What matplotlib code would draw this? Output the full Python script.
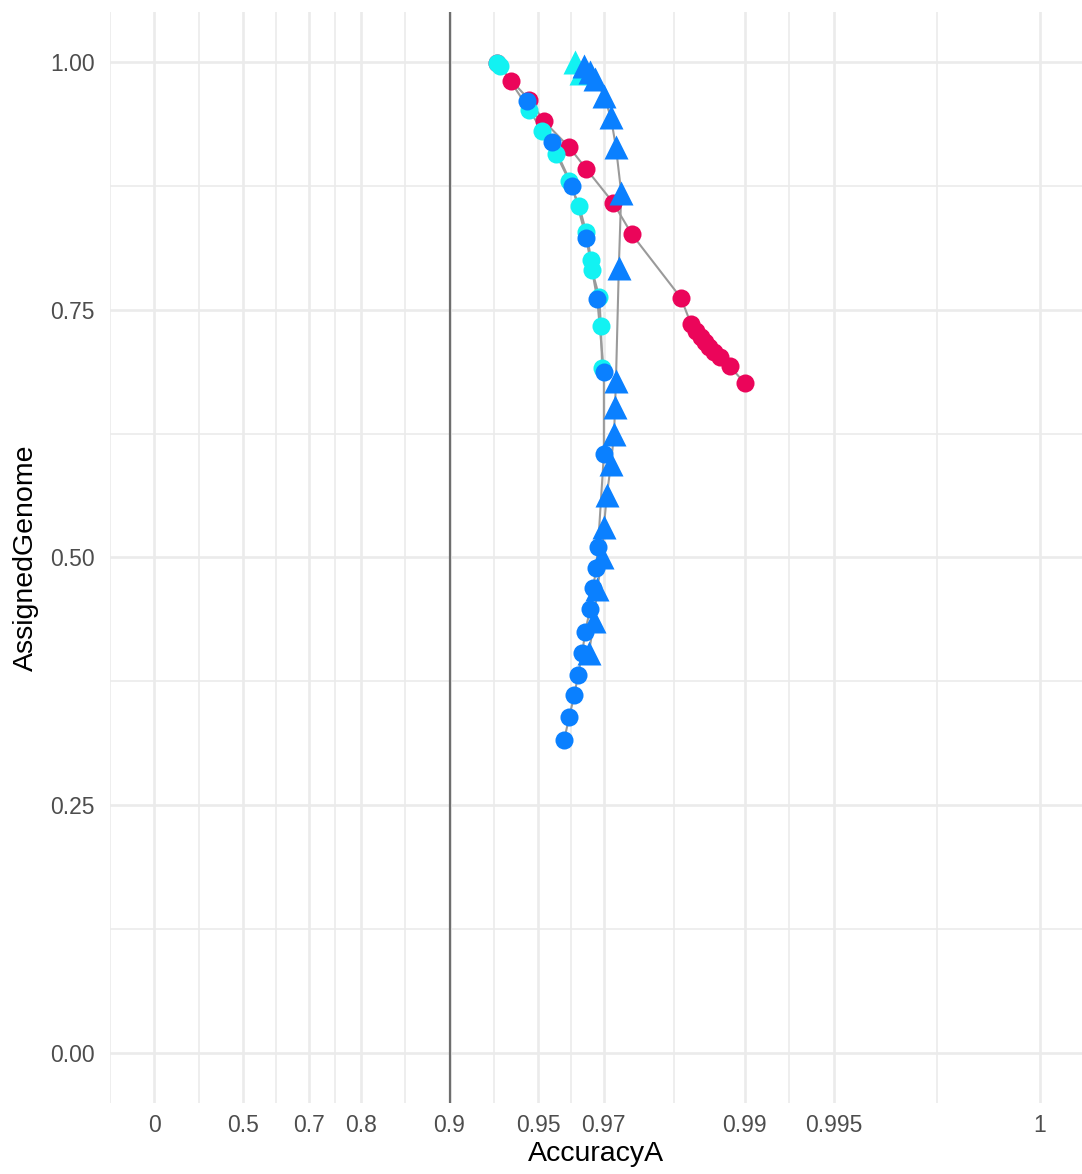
import numpy as np
import matplotlib
matplotlib.use('Agg')
import matplotlib.pyplot as plt

plt.rcParams['font.family'] = ['Liberation Sans', 'DejaVu Sans']

# eje x transformado: -log10(1 - acc), recortado en 0.999
def trans(a):
    a = np.minimum(np.asarray(a, dtype=float), 0.999)
    return -np.log10(1 - a)

x_breaks = [0, 0.5, 0.7, 0.8, 0.9, 0.95, 0.97, 0.99, 0.995, 1]
x_labels = ['0', '0.5', '0.7', '0.8', '0.9', '0.95', '0.97', '0.99', '0.995', '1']
y_breaks = [0.0, 0.25, 0.5, 0.75, 1.0]
y_labels = ['0.00', '0.25', '0.50', '0.75', '1.00']
umbral = 0.9

# serie roja (circulos)
red_acc = [0.9311, 0.9383, 0.9463, 0.9522, 0.9607, 0.9656, 0.9721, 0.9759, 0.98355,
           0.98478, 0.98536, 0.98592, 0.98636, 0.98677, 0.98727, 0.98785, 0.98876, 0.9900]
red_gen = [0.999, 0.981, 0.962, 0.940, 0.914, 0.892, 0.858, 0.826, 0.762,
           0.736, 0.729, 0.722, 0.717, 0.712, 0.707, 0.702, 0.693, 0.676]

# serie cian (circulos)
cyan_acc = [0.9311, 0.9327, 0.9463, 0.9515, 0.9565, 0.9607, 0.9636, 0.9656, 0.9669,
            0.9671, 0.9689, 0.9693, 0.9696]
cyan_gen = [0.999, 0.996, 0.952, 0.930, 0.907, 0.880, 0.855, 0.828, 0.800,
            0.790, 0.763, 0.734, 0.691]

# serie azul (circulos)
blue_acc = [0.9455, 0.9551, 0.9616, 0.9656, 0.9684, 0.9700, 0.9700, 0.9686, 0.9681,
            0.9674, 0.9666, 0.9653, 0.9645, 0.9633, 0.9622, 0.9607, 0.9591]
blue_gen = [0.961, 0.919, 0.875, 0.822, 0.761, 0.687, 0.604, 0.511, 0.489,
            0.469, 0.448, 0.425, 0.404, 0.381, 0.361, 0.339, 0.316]

# serie azul (triangulos)
tri_acc = [0.9650, 0.9666, 0.9679, 0.9700, 0.9716, 0.9727, 0.9738, 0.9733, 0.9727,
           0.9725, 0.9723, 0.9716, 0.9707, 0.9700, 0.9696, 0.9684, 0.9676, 0.9663]
tri_gen = [0.996, 0.990, 0.983, 0.966, 0.944, 0.914, 0.868, 0.792, 0.678,
           0.652, 0.625, 0.594, 0.563, 0.531, 0.500, 0.468, 0.436, 0.404]

# serie cian (triangulos)
ctri_acc = [0.9625, 0.9642]
ctri_gen = [1.000, 0.989]

c_red = '#EB055A'
c_cyan = '#12F2F2'
c_blue = '#0A80FF'
c_line = '#9A9A9A'

fig = plt.figure(figsize=(10.82, 11.74), dpi=100)
ax = fig.add_axes([0.1017, 0.0609, 0.8983, 0.9285])

# grilla menor y mayor
tb = trans(x_breaks)
x_minor = [-0.15] + list((tb[:-1] + tb[1:]) / 2)
y_minor = [0.125, 0.375, 0.625, 0.875]
for v in x_minor:
    ax.axvline(v, color='#EBEBEB', lw=1.2, zorder=0)
for v in y_minor:
    ax.axhline(v, color='#EBEBEB', lw=1.2, zorder=0)
for v in tb:
    ax.axvline(v, color='#EBEBEB', lw=1.9, zorder=0)
for v in y_breaks:
    ax.axhline(v, color='#EBEBEB', lw=1.9, zorder=0)

ax.axvline(trans(umbral), color='#6E6E6E', lw=1.6, zorder=1)

# lineas
for xs, ys in [(red_acc, red_gen), (cyan_acc, cyan_gen), (blue_acc, blue_gen),
               (tri_acc, tri_gen), (ctri_acc, ctri_gen)]:
    ax.plot(trans(xs), ys, color=c_line, lw=1.5, zorder=2)

# puntos
ax.plot(trans(red_acc), red_gen, 'o', color=c_red, ms=13, mec='none', zorder=3)
ax.plot(trans(cyan_acc), cyan_gen, 'o', color=c_cyan, ms=13, mec='none', zorder=3)
ax.plot(trans(blue_acc), blue_gen, 'o', color=c_blue, ms=13, mec='none', zorder=3)
ax.plot(trans(ctri_acc), ctri_gen, '^', color=c_cyan, ms=17, mec='none', zorder=3)
ax.plot(trans(tri_acc), tri_gen, '^', color=c_blue, ms=17, mec='none', zorder=3)

ax.set_xlim(-0.15, 3.1426)
ax.set_ylim(-0.05, 1.05)
ax.set_xticks(tb)
ax.set_xticklabels(x_labels)
ax.set_yticks(y_breaks)
ax.set_yticklabels(y_labels)
ax.tick_params(axis='x', length=0, labelsize=16.5, labelcolor='#4D4D4D', pad=8)
ax.tick_params(axis='y', length=0, labelsize=16.5, labelcolor='#4D4D4D', pad=11)
for s in ax.spines.values():
    s.set_visible(False)

ax.set_xlabel('AccuracyA', fontsize=20.5, color='black', labelpad=3)
ax.set_ylabel('AssignedGenome', fontsize=20.5, color='black', labelpad=8)

fig.savefig('out.png', dpi=100)
